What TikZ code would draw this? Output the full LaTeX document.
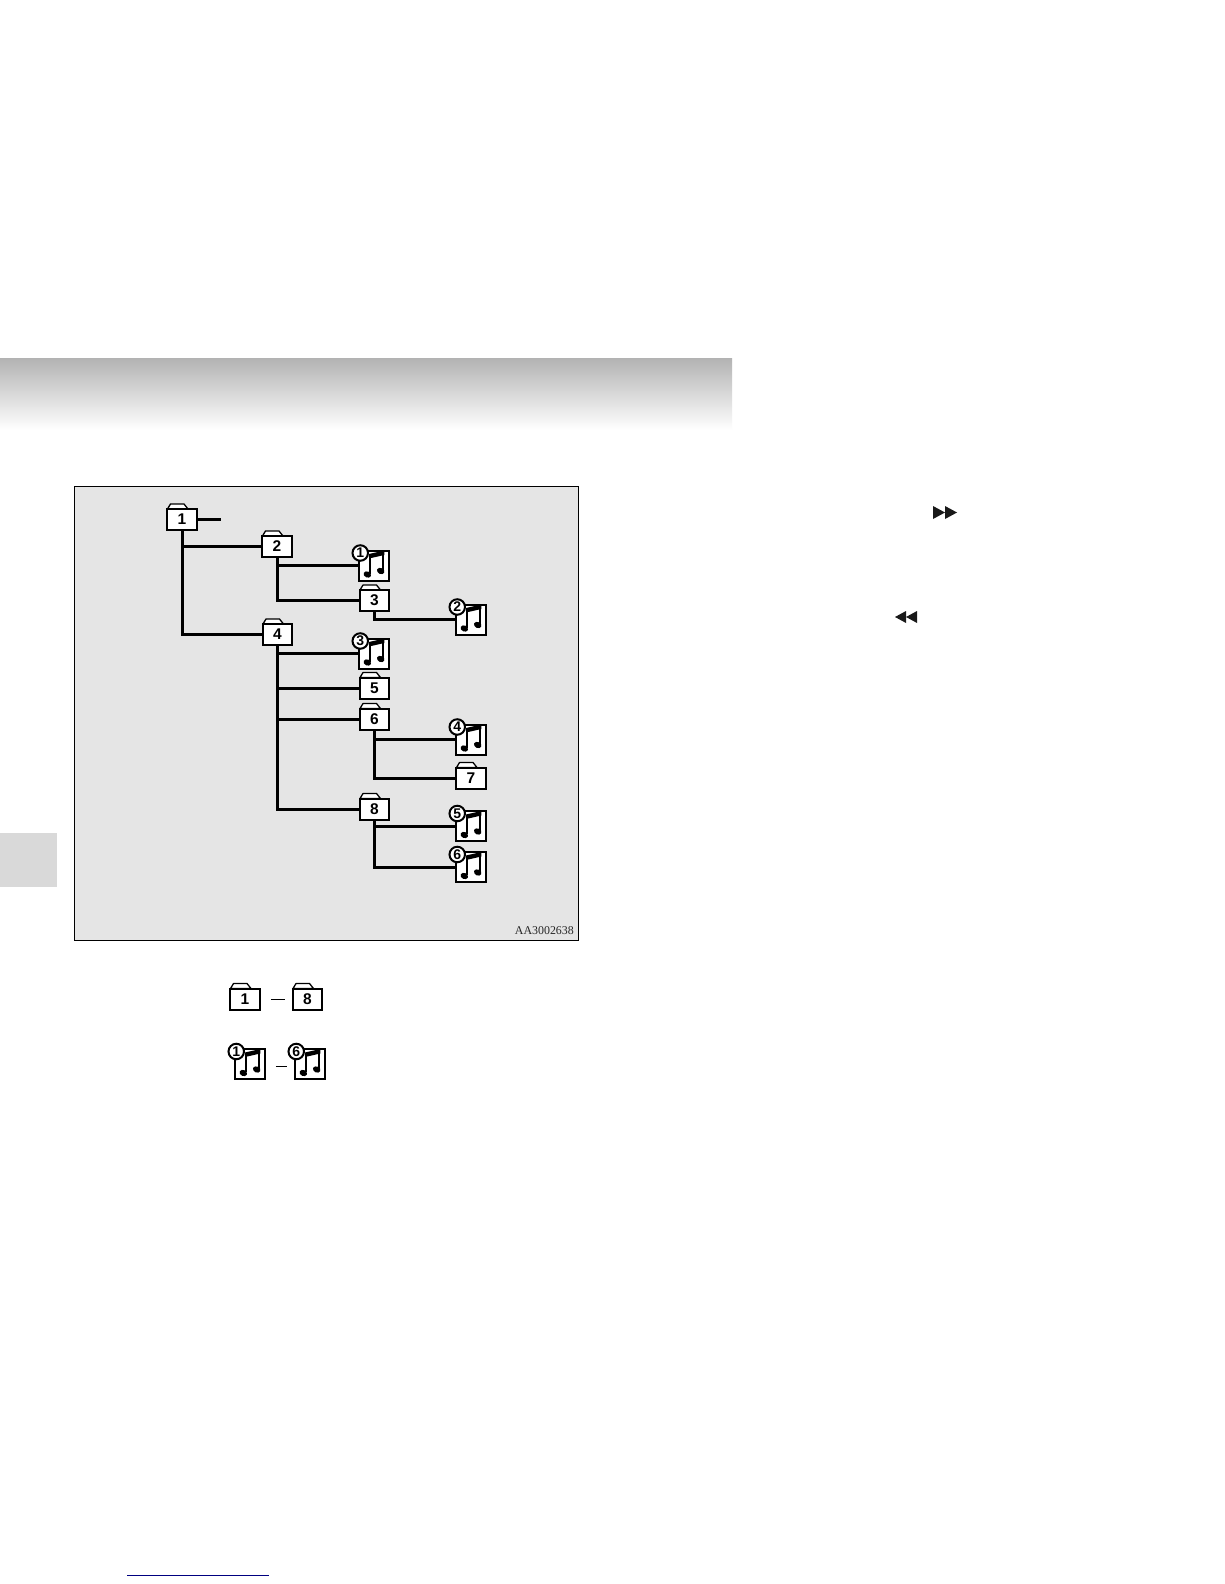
\documentclass[tikz,border=0pt]{standalone}
\usepackage{fontspec}
\setmainfont{Liberation Sans}
\newfontfamily\capfont{Liberation Serif}
\tikzset{
  x=1pt,y=-1pt,
  folderbody/.style={draw=black,fill=white,line width=2pt,minimum width=29.5pt,minimum height=21pt,inner sep=0pt,outer sep=0pt,font=\fontsize{15.5}{15.5}\selectfont\bfseries},
  foldertab/.style={draw=black,fill=white,line width=1.3pt,line join=round},
  notebody/.style={draw=black,fill=white,line width=2pt,minimum width=29.5pt,minimum height=30pt,inner sep=0pt,outer sep=0pt},
  notebadge/.style={circle,draw=black,fill=white,line width=2pt,minimum size=15.5pt,inner sep=0pt,font=\fontsize{14}{14}\selectfont\bfseries},
  branch/.style={draw=black,line width=3pt,line cap=butt,line join=miter},
  twig/.style={draw=black,line width=1pt,shorten <=11pt,shorten >=8pt},
}
\newcommand{\folderat}[4]{% name, x, y, label
  \begin{scope}[shift={(#2,#3)}]
    \path[foldertab] (-14.5,-10.5) -- (-11.5,-15.5) -- (2,-15.5) -- (6,-10.5) -- cycle;
  \end{scope}
  \node[folderbody] (#1) at (#2,#3) {#4};
}
\newcommand{\noteat}[4]{% name, x, y, number
  \node[notebody] (#1) at (#2,#3) {};
  \begin{scope}[shift={(#2,#3)}]
    \draw[black,line width=2pt] (-4,-9) -- (-4,8);
    \draw[black,line width=2pt] (9.3,-13) -- (9.3,5);
    \fill[black] (-5,-11.5) -- (10.3,-15) -- (10.3,-10.5) -- (-5,-7) -- cycle;
    \fill[black,rotate around={-25:(-6.7,9)}] (-6.7,9) ellipse (3.9 and 3);
    \fill[black,rotate around={-25:(6.7,5.5)}] (6.7,5.5) ellipse (3.9 and 3);
  \end{scope}
  \node[notebadge] (#1b) at ($(#1.north west)+(1,2.5)$) {#4};
}
\usetikzlibrary{calc}
\begin{document}
\begin{tikzpicture}
\useasboundingbox (0,0) rectangle (1224,1584);
\fill[white] (0,0) rectangle (1224,1584);
% header band and side tab
\shade[top color=black!30,bottom color=white] (0,358) rectangle (732,430);
\fill[black!15] (0,833) rectangle (57,887);
% panel
\draw[black,fill=black!10,line width=0.9pt] (74,486) rectangle (578.5,940);
\node[font=\capfont\fontsize{11.9}{12}\selectfont,text=black!85,anchor=east,inner sep=0pt] (code) at (574,930.5) {AA3002638};
% tree
\folderat{f1}{182}{519.5}{1}
\folderat{f2}{277}{546.5}{2}
\folderat{f3}{374.5}{600.5}{3}
\folderat{f4}{277.5}{634.5}{4}
\folderat{f5}{374.5}{688}{5}
\folderat{f6}{374.5}{719}{6}
\folderat{f7}{471}{778}{7}
\folderat{f8}{374.5}{809}{8}
\noteat{n1}{374}{565.5}{1}
\noteat{n2}{471}{619.5}{2}
\noteat{n3}{374}{653.5}{3}
\noteat{n4}{471}{739.5}{4}
\noteat{n5}{471}{826}{5}
\noteat{n6}{471}{867}{6}
\coordinate (stub) at (221,519.5);
\draw[branch] (f1.east) -- (stub);
\draw[branch] (f1.south) |- (f2.west);
\draw[branch] (f1.south) |- (f4.west);
\draw[branch] (f2.south) |- (n1.west);
\draw[branch] (f2.south) |- (f3.west);
\draw[branch] (f3.south) |- (n2.west);
\draw[branch] (f4.south) |- (n3.west);
\draw[branch] (f4.south) |- (f5.west);
\draw[branch] (f4.south) |- (f6.west);
\draw[branch] (f4.south) |- (f8.west);
\draw[branch] (f6.south) |- (n4.west);
\draw[branch] (f6.south) |- (f7.west);
\draw[branch] (f8.south) |- (n5.west);
\draw[branch] (f8.south) |- (n6.west);
% legend
\folderat{lf1}{245}{999}{1}
\folderat{lf8}{307.5}{999}{8}
\noteat{ln1}{250}{1064}{1}
\noteat{ln6}{310}{1064}{6}
\draw[twig] (lf1.east) -- (lf8.west);
\draw[twig] ($(ln1.east)+(0,2)$) -- ($(ln6.west)+(0,2)$);
% transport marks
\fill[black!90] (933,506) -- (945,512.5) -- (933,519) -- cycle;
\fill[black!90] (945,506) -- (957,512.5) -- (945,519) -- cycle;
\fill[black!90] (917,611) -- (906,617) -- (917,623) -- cycle;
\fill[black!90] (906,611) -- (895,617) -- (906,623) -- cycle;
% bottom rule
\draw[blue!50!black,line width=1pt] (127,1575) -- (269,1575);
\end{tikzpicture}
\end{document}
